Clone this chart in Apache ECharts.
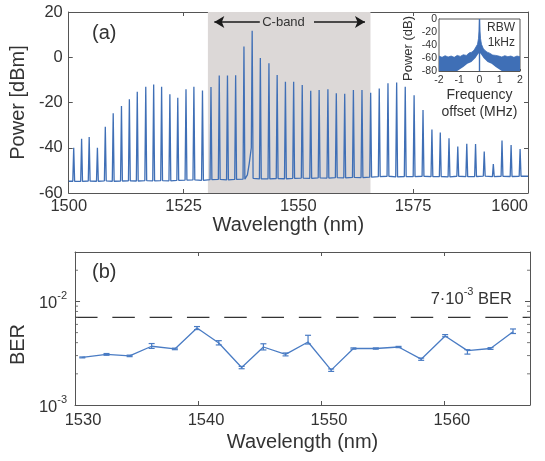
<!DOCTYPE html>
<html><head><meta charset="utf-8">
<script src="https://cdn.jsdelivr.net/npm/echarts/dist/echarts.min.js"></script>
<style>html,body{margin:0;padding:0;background:#fff}#c{width:545px;height:461px}</style>
</head><body><div id="c"></div>
<script>
// ---- (a) comb spectrum: peak wavelengths (nm), peak powers (dBm), local noise floor (dBm)
const peakWavelength = [1501.08,1502.80,1504.45,1506.24,1507.96,1509.68,1511.48,1513.20,1514.92,1516.77,
  1518.49,1520.22,1522.02,1523.74,1525.53,1527.25,1529.12,1530.97,1532.77,1534.56,
  1536.34,1538.15,1539.94,1541.72,1543.59,1545.38,1547.18,1548.97,1550.84,1552.69,
  1554.52,1556.43,1558.26,1560.09,1561.98,1563.85,1565.74,1567.61,1569.51,1571.40,
  1573.27,1575.20,1577.14,1579.08,1580.90,1582.80,1584.71,1586.67,1588.58,1590.47,
  1592.45,1594.34,1596.32,1598.28];
const peakPower = [-40,-36,-35.3,-40,-30.7,-24.8,-21.5,-18.6,-15.2,-13,
  -12.1,-13,-16.4,-17.9,-14.2,-13,-14.7,-13.2,-8.1,-8.1,
  -8,4.7,11.7,-0.3,-2.7,-7.8,-10.8,-10.8,-12.3,-14.8,
  -14.5,-14.2,-15.9,-16.1,-14.5,-14.5,-15.7,-13.8,-11.5,-11.2,
  -13,-16.8,-23.3,-31.9,-33.3,-35.8,-39.5,-38.2,-38.4,-41.7,
  -47.2,-36.8,-38.8,-40.6];
const floorPower = [-54.8,-54.9,-54.7,-54.8,-54.6,-54.8,-54.7,-54.6,-54.7,-54.5,
  -54.6,-54.5,-54.6,-54.4,-54.3,-54.2,-54.4,-54.1,-54.0,-54.2,
  -54.0,-53.9,-53.5,-53.8,-53.8,-53.6,-53.7,-53.5,-53.4,-53.5,
  -53.3,-53.4,-53.2,-53.3,-53.1,-53.2,-53.0,-52.8,-52.6,-52.9,
  -52.7,-52.8,-52.6,-52.8,-52.7,-52.9,-52.6,-52.8,-52.7,-52.5,
  -52.8,-52.6,-52.7,-52.6];
const centralIndex = 22;
const centralPedestal = [[1538.9,-52],[1539.3,-47],[1539.75,-40]];
const cBand = [1530.3, 1565.7];
const wlTicks = {min:1500, max:1600, interval:25};
const powTicks = {min:-60, max:20, interval:20};

// ---- inset: heterodyne beat spectrum (MHz, dB)
const insetUpper = [[-2,-57],[-1.85,-59],[-1.7,-56.5],[-1.55,-58.5],[-1.4,-57],[-1.25,-59],[-1.1,-56],[-0.95,-57.5],
  [-0.8,-55],[-0.65,-56],[-0.5,-52],[-0.38,-51],[-0.27,-48],[-0.18,-45],[-0.1,-39],[-0.05,-30],[-0.02,-17],[0,0],
  [0.02,-17],[0.05,-30],[0.1,-39],[0.18,-45],[0.27,-48.5],[0.38,-51],[0.5,-52.5],[0.65,-55.5],[0.8,-56],[0.95,-57],
  [1.1,-58.5],[1.25,-56.5],[1.4,-58],[1.55,-57],[1.7,-59],[1.85,-57],[2,-58]];
const insetLower = [[-1.1,-80],[-0.95,-77],[-0.8,-74],[-0.6,-69],[-0.4,-66],[-0.2,-60],[-0.05,-53],
  [0.05,-53],[0.2,-60],[0.4,-66],[0.6,-69],[0.8,-74],[0.95,-77],[1.1,-80]];
const insetCarrier = [[0,-80],[0,0]];

// ---- (b) BER per channel
const berWavelength = [1530.59,1532.56,1534.44,1536.23,1538.12,1539.92,1541.69,1543.55,1545.32,1547.12,
  1548.95,1550.83,1552.64,1554.46,1556.31,1558.15,1560.10,1561.91,1563.79,1565.62];
const berValue = [2.88e-3,3.08e-3,2.98e-3,3.69e-3,3.48e-3,5.53e-3,3.97e-3,2.30e-3,3.63e-3,3.08e-3,
  4.06e-3,2.17e-3,3.51e-3,3.51e-3,3.63e-3,2.77e-3,4.64e-3,3.35e-3,3.51e-3,5.10e-3];
const berLow = [2.85e-3,3.02e-3,2.93e-3,3.52e-3,3.42e-3,5.35e-3,3.80e-3,2.24e-3,3.40e-3,2.98e-3,
  3.88e-3,2.11e-3,3.46e-3,3.46e-3,3.58e-3,2.70e-3,4.56e-3,3.10e-3,3.44e-3,4.90e-3];
const berHigh = [2.91e-3,3.14e-3,3.03e-3,3.92e-3,3.54e-3,5.72e-3,4.18e-3,2.36e-3,3.90e-3,3.18e-3,
  4.71e-3,2.23e-3,3.56e-3,3.56e-3,3.68e-3,2.84e-3,4.78e-3,3.42e-3,3.58e-3,5.42e-3];
const berThreshold = 7e-3;
const berX = {min:1530, max:1567, interval:10};
const berY = {min:1e-3, max:3e-2};
const berMinorTicks = [2e-3,3e-3,4e-3,5e-3,6e-3,7e-3,8e-3,9e-3,2e-2];

// ---- build
const spectrum = [[wlTicks.min, floorPower[0]]];
peakWavelength.forEach((l, i) => {
  const f = floorPower[i];
  if (i === centralIndex) centralPedestal.forEach(p => spectrum.push(p));
  else spectrum.push([l - 0.2, f]);
  spectrum.push([l, peakPower[i]]);
  spectrum.push([l + 0.2, f]);
});
spectrum.push([wlTicks.max, floorPower[floorPower.length - 1]]);

const berLine = berWavelength.map((l, i) => [l, berValue[i]]);
const berErr = berWavelength.map((l, i) => [l, berLow[i], berHigh[i]]);
const thresholdLine = [[berX.min, berThreshold], [berX.max, berThreshold]];

const FONT = 'Liberation Sans, Arial, Helvetica, sans-serif';
const TXT = '#333';
const AX = '#555';
const BLUE = '#3f6fb6';
const BLUE2 = '#4a7cc4';

const axLine = {show: true, onZero: false, lineStyle: {color: AX, width: 1}};
const tickIn = {show: true, inside: true, length: 4, lineStyle: {color: AX}};
const noLbl = {show: false};
const plain = v => String(v);

const chart = echarts.init(document.getElementById('c'), null, {renderer: 'canvas'});
chart.setOption({
  animation: false,
  backgroundColor: '#fff',
  textStyle: {fontFamily: FONT},
  grid: [
    {left: 63, right: 17, top: 12, bottom: 268},
    {left: 71, right: 15, top: 252, bottom: 56},
    {left: 439, top: 19, width: 81, height: 52, show: true, backgroundColor: '#fff', borderColor: AX, borderWidth: 1, z: 1}
  ],
  xAxis: [
    {type: 'value', gridIndex: 0, position: 'bottom', min: wlTicks.min, max: wlTicks.max, interval: wlTicks.interval,
      axisLine: axLine, axisTick: tickIn, splitLine: {show: false},
      axisLabel: {color: TXT, fontSize: 16.5, margin: 5, fontFamily: FONT, alignMaxLabel: 'right', formatter: plain},
      name: 'Wavelength (nm)', nameLocation: 'middle', nameGap: 20,
      nameTextStyle: {color: TXT, fontSize: 20, fontFamily: FONT, padding: [0, 20, 0, 0]}},
    {type: 'value', gridIndex: 0, position: 'top', min: wlTicks.min, max: wlTicks.max, interval: wlTicks.interval,
      axisLine: axLine, axisTick: tickIn, axisLabel: noLbl, splitLine: {show: false}},
    {type: 'value', gridIndex: 1, position: 'bottom', min: berX.min, max: berX.max, interval: berX.interval,
      axisLine: axLine, axisTick: tickIn, splitLine: {show: false},
      axisLabel: {color: TXT, fontSize: 16.5, margin: 7, fontFamily: FONT, showMaxLabel: false, padding: [0, 0, 0, 16],
        formatter: v => (v % berX.interval === 0 ? String(v) : '')},
      name: 'Wavelength (nm)', nameLocation: 'middle', nameGap: 27,
      nameTextStyle: {color: TXT, fontSize: 20, fontFamily: FONT}},
    {type: 'value', gridIndex: 1, position: 'top', min: berX.min, max: berX.max, interval: berX.interval,
      axisLine: axLine, axisTick: tickIn, axisLabel: noLbl, splitLine: {show: false}},
    {type: 'value', gridIndex: 2, position: 'bottom', min: -2, max: 2, interval: 1,
      axisLine: axLine, axisTick: {show: true, inside: true, length: 2, lineStyle: {color: AX}}, splitLine: {show: false},
      axisLabel: {color: TXT, fontSize: 10.5, margin: 4, fontFamily: FONT},
      name: 'Frequency\noffset (MHz)', nameLocation: 'middle', nameGap: 14,
      nameTextStyle: {color: TXT, fontSize: 14, lineHeight: 17, fontFamily: FONT, verticalAlign: 'top'}}
  ],
  yAxis: [
    {type: 'value', gridIndex: 0, position: 'left', min: powTicks.min, max: powTicks.max, interval: powTicks.interval,
      axisLine: axLine, axisTick: tickIn, splitLine: {show: false},
      axisLabel: {color: TXT, fontSize: 16.5, margin: 6, fontFamily: FONT},
      name: 'Power [dBm]', nameLocation: 'middle', nameGap: 35,
      nameTextStyle: {color: TXT, fontSize: 20, fontFamily: FONT}},
    {type: 'value', gridIndex: 0, position: 'right', min: powTicks.min, max: powTicks.max, interval: powTicks.interval,
      axisLine: axLine, axisTick: tickIn, axisLabel: noLbl, splitLine: {show: false}},
    {type: 'log', logBase: 10, gridIndex: 1, position: 'left', min: berY.min, max: berY.max,
      axisLine: axLine, axisTick: {show: true, inside: true, length: 5, lineStyle: {color: AX}}, splitLine: {show: false},
      axisLabel: {color: TXT, margin: 8, fontFamily: FONT,
        formatter: v => { const e = Math.log10(v); const r = Math.round(e); return Math.abs(e - r) < 1e-6 ? '{b|10}{s|' + r + '}' : ''; },
        rich: {b: {fontSize: 16.5, color: TXT, fontFamily: FONT, lineHeight: 22, verticalAlign: 'bottom'},
               s: {fontSize: 11, color: TXT, fontFamily: FONT, lineHeight: 12, verticalAlign: 'top'}}},
      name: 'BER', nameLocation: 'middle', nameGap: 44,
      nameTextStyle: {color: TXT, fontSize: 20, fontFamily: FONT, padding: [0, 32, 0, 0]}},
    {type: 'log', logBase: 10, gridIndex: 1, position: 'right', min: berY.min, max: berY.max,
      axisLine: axLine, axisTick: {show: true, inside: true, length: 5, lineStyle: {color: AX}}, axisLabel: noLbl, splitLine: {show: false}},
    {type: 'value', gridIndex: 2, position: 'left', min: -80, max: 0, interval: 20,
      axisLine: axLine, axisTick: {show: true, inside: true, length: 2, lineStyle: {color: AX}}, splitLine: {show: false},
      axisLabel: {color: TXT, fontSize: 10.5, margin: 2, fontFamily: FONT},
      name: 'Power (dB)', nameLocation: 'middle', nameGap: 24,
      nameTextStyle: {color: TXT, fontSize: 13, fontFamily: FONT, padding: [0, 7, 0, 0]}}
  ],
  series: [
    {type: 'line', xAxisIndex: 0, yAxisIndex: 0, data: spectrum, showSymbol: false, symbol: 'none',
      lineStyle: {color: BLUE, width: 1.3}, z: 3,
      markArea: {silent: true, itemStyle: {color: '#dcd8d7'}, data: [[{xAxis: cBand[0]}, {xAxis: cBand[1]}]]},
      markLine: {silent: true, symbol: ['none', 'arrow'], symbolSize: [9, 10], label: {show: false},
        lineStyle: {color: '#1a1a1a', width: 1.5, type: 'solid'},
        data: [[{coord: [1541.6, 15.6]}, {coord: [1531.7, 15.6]}],
               [{coord: [1553.4, 15.6]}, {coord: [1564.5, 15.6]}]]}},
    {type: 'line', xAxisIndex: 4, yAxisIndex: 4, data: insetUpper, showSymbol: false, symbol: 'none',
      lineStyle: {color: BLUE, width: 0.8}, areaStyle: {color: BLUE, opacity: 1, origin: 'start'}, z: 4},
    {type: 'line', xAxisIndex: 4, yAxisIndex: 4, data: insetLower, showSymbol: false, symbol: 'none',
      lineStyle: {width: 0}, areaStyle: {color: '#fff', opacity: 1, origin: 'start'}, z: 5},
    {type: 'line', xAxisIndex: 4, yAxisIndex: 4, data: insetCarrier, showSymbol: false, symbol: 'none',
      lineStyle: {color: BLUE, width: 1.4}, z: 6},
    {type: 'line', xAxisIndex: 2, yAxisIndex: 2, data: thresholdLine, showSymbol: false, symbol: 'none',
      lineStyle: {color: '#333', width: 1.3, type: [22.5, 14.8]}, z: 2},
    {type: 'line', xAxisIndex: 2, yAxisIndex: 2, data: berLine, showSymbol: false, symbol: 'none',
      lineStyle: {color: BLUE2, width: 1.3}, z: 3},
    {type: 'custom', xAxisIndex: 2, yAxisIndex: 2, data: berErr, z: 4,
      encode: {x: 0, y: [1, 2]},
      renderItem: (params, api) => {
        const x = api.value(0);
        const lo = api.coord([x, api.value(1)]);
        const hi = api.coord([x, api.value(2)]);
        const hw = 3;
        const st = {stroke: BLUE2, lineWidth: 1.2};
        return {type: 'group', children: [
          {type: 'line', shape: {x1: lo[0], y1: lo[1], x2: hi[0], y2: hi[1]}, style: st},
          {type: 'line', shape: {x1: lo[0] - hw, y1: lo[1], x2: lo[0] + hw, y2: lo[1]}, style: st},
          {type: 'line', shape: {x1: hi[0] - hw, y1: hi[1], x2: hi[0] + hw, y2: hi[1]}, style: st}
        ]};
      }},
    {type: 'scatter', xAxisIndex: 2, yAxisIndex: 2, data: berMinorTicks.map(v => [berX.min, v]),
      symbol: 'rect', symbolSize: [3, 1], symbolOffset: [1.5, 0], itemStyle: {color: AX}, silent: true, z: 5},
    {type: 'scatter', xAxisIndex: 2, yAxisIndex: 2, data: berMinorTicks.map(v => [berX.max, v]),
      symbol: 'rect', symbolSize: [3, 1], symbolOffset: [-1.5, 0], itemStyle: {color: AX}, silent: true, z: 5}
  ],
  graphic: [
    {type: 'text', left: 92, top: 23, z: 10, style: {text: '(a)', fontSize: 20, fill: TXT, fontFamily: FONT}},
    {type: 'text', left: 92, top: 262, z: 10, style: {text: '(b)', fontSize: 20, fill: TXT, fontFamily: FONT}},
    {type: 'text', x: 283.5, y: 22, z: 10, style: {text: 'C-band', fontSize: 13, fill: TXT, fontFamily: FONT, align: 'center', verticalAlign: 'middle'}},
    {type: 'text', x: 515, y: 28, z: 10, style: {text: 'RBW', fontSize: 12, fill: TXT, fontFamily: FONT, align: 'right', verticalAlign: 'middle'}},
    {type: 'text', x: 515, y: 42.5, z: 10, style: {text: '1kHz', fontSize: 12, fill: TXT, fontFamily: FONT, align: 'right', verticalAlign: 'middle'}},
    {type: 'text', x: 512, y: 297, z: 10, style: {text: '{b|7·10}{s|-3}{b| BER}', align: 'right', verticalAlign: 'middle',
      rich: {b: {fontSize: 16.5, fill: TXT, fontFamily: FONT, lineHeight: 22, verticalAlign: 'bottom'},
             s: {fontSize: 11, fill: TXT, fontFamily: FONT, lineHeight: 12, verticalAlign: 'top'}}}}
  ]
});
</script></body></html>
